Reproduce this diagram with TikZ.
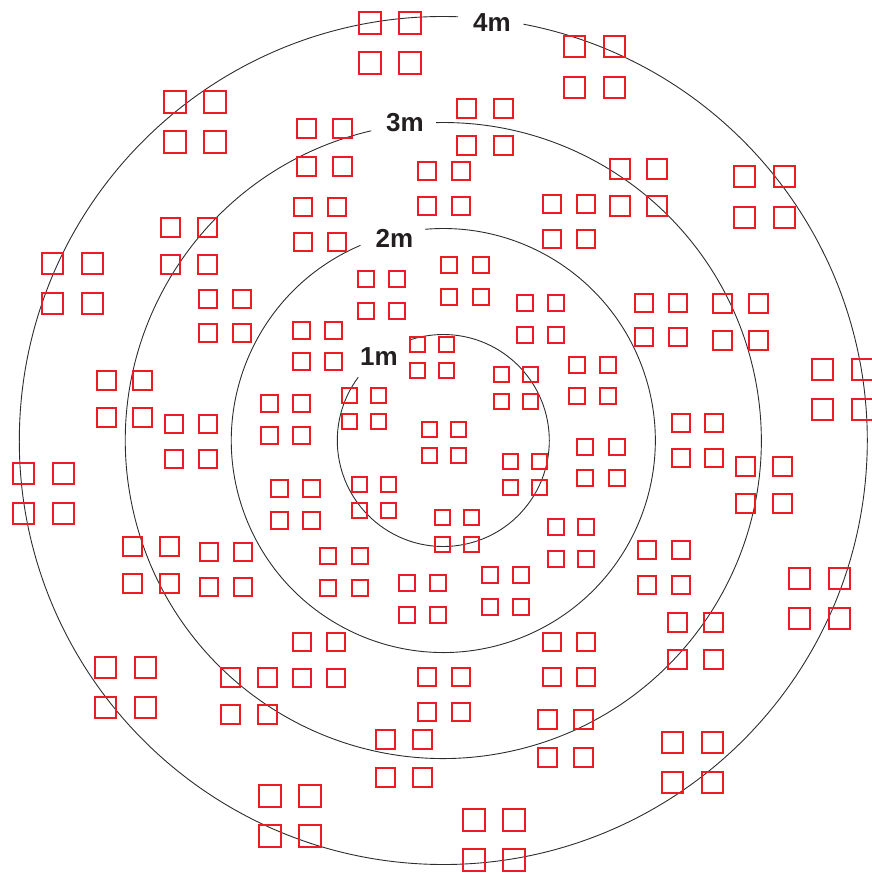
\documentclass[tikz,border=0pt]{standalone}
\usepackage{fontspec}
\setmainfont{Liberation Sans}
\usetikzlibrary{calc}
\definecolor{sqred}{RGB}{237,28,36}
\definecolor{ringgray}{RGB}{45,45,45}
\definecolor{labblack}{RGB}{35,31,32}
\tikzset{
  sq/.style={draw=sqred, line width=1.8pt},
  ring/.style={draw=ringgray, line width=0.9pt},
  lab/.style={text=labblack, inner sep=0pt, font=\fontsize{26}{30}\selectfont\bfseries}
}
\begin{document}
\begin{tikzpicture}[x=1pt,y=-1pt]
\useasboundingbox (0,0) rectangle (872,873);
\clip (0,0) rectangle (872,873);
\coordinate (C) at (443.3,440.5);
% rings with gaps for labels
\draw[ring] ($(C)+(143.3:106pt)$) arc[start angle=143.3, end angle=468.1, radius=106pt];
\draw[ring] ($(C)+(113.0:212pt)$) arc[start angle=113.0, end angle=454.9, radius=212pt];
\draw[ring] ($(C)+(103.1:318pt)$) arc[start angle=103.1, end angle=451.3, radius=318pt];
\draw[ring] ($(C)+(88.0:424pt)$) arc[start angle=88.0, end angle=439.1, radius=424pt];
% labels
\node[lab] (l1) at (379,356.5) {1m};
\node[lab] (l2) at (394.5,238) {2m};
\node[lab] (l3) at (405,123) {3m};
\node[lab] (l4) at (492,22.5) {4m};
% groups of four squares: x/y (outer top-left), size, horizontal and vertical pitch
\foreach \x/\y/\s/\a/\b in {
 358/11/24/40/40, 563/35/23/40/41, 163/90/24/40/40, 456/98/21/37/37,
 296/118/21/36/38, 417/161/20/34/35, 609/158/22/37/37, 733/165/23/40/41,
 542/194/20/34/35, 293/197/20/34/35, 160/217/21/37/37, 41/252/23/40/40,
 357/270/18/31/32, 440/256/18/32/32, 198/289/20/34/34, 516/294/18/31/32,
 634/293/20/34/34, 712/293/21/36/37, 292/321/19/32/31, 409/336/17/29/26,
 811/358/23/40/40, 568/356/18/31/31, 493/366/17/29/27, 96/370/21/36/37,
 341/387/17/29/26, 260/394/19/32/32, 164/414/20/34/35, 421/421/17/29/26,
 671/413/20/33/35, 576/438/18/32/31, 735/456/21/37/37, 12/462/23/40/40,
 502/453/17/29/26, 270/479/19/32/32, 351/476/17/29/26, 434/509/17/29/27,
 547/518/18/30/32, 122/536/21/37/37, 199/542/20/34/35, 319/547/18/32/32,
 637/540/20/34/35, 398/574/18/31/32, 481/566/18/31/32, 788/567/23/40/40,
 667/612/21/36/37, 292/632/20/34/36, 542/632/20/34/35, 94/656/23/40/40,
 220/667/21/37/37, 417/667/20/34/35, 537/709/21/36/38, 375/729/21/37/38,
 661/731/23/40/40, 258/784/24/40/40, 462/808/24/40/40}
{
  \draw[sq] (\x+0.9,\y+0.9) rectangle (\x+\s-0.9,\y+\s-0.9);
  \draw[sq] (\x+\a+0.9,\y+0.9) rectangle (\x+\a+\s-0.9,\y+\s-0.9);
  \draw[sq] (\x+0.9,\y+\b+0.9) rectangle (\x+\s-0.9,\y+\b+\s-0.9);
  \draw[sq] (\x+\a+0.9,\y+\b+0.9) rectangle (\x+\a+\s-0.9,\y+\b+\s-0.9);
}
\end{tikzpicture}
\end{document}
